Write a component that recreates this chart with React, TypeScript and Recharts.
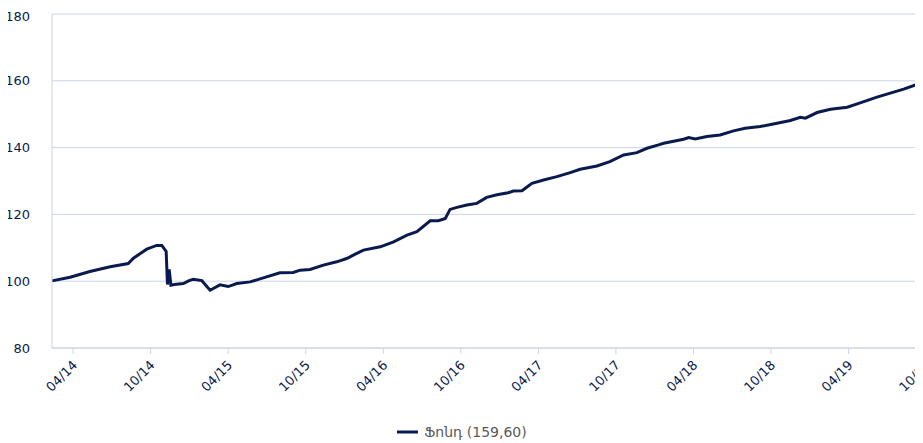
import React from 'react';
import { LineChart, Line, XAxis, YAxis, CartesianGrid, Legend } from 'recharts';

// fund index (dates are approximate)
const dates = [
  '2014-02-12', '2014-03-24', '2014-05-10', '2014-06-27', '2014-08-09', '2014-08-21',
  '2014-09-22', '2014-10-15', '2014-10-27', '2014-11-07', '2014-11-10', '2014-11-14',
  '2014-11-18', '2014-11-26', '2014-12-17', '2014-12-29', '2015-01-10', '2015-01-30',
  '2015-02-03', '2015-02-15', '2015-02-19', '2015-03-12', '2015-04-01', '2015-04-21',
  '2015-05-22', '2015-06-30', '2015-08-01', '2015-09-02', '2015-09-18', '2015-10-11',
  '2015-11-12', '2015-12-13', '2016-01-06', '2016-01-26', '2016-02-15', '2016-03-24',
  '2016-04-25', '2016-05-26', '2016-06-19', '2016-07-20', '2016-08-09', '2016-08-25',
  '2016-09-06', '2016-09-22', '2016-10-15', '2016-11-08', '2016-12-01', '2016-12-25',
  '2017-01-21', '2017-02-03', '2017-02-23', '2017-03-16', '2017-04-13', '2017-05-14',
  '2017-06-15', '2017-07-08', '2017-08-17', '2017-09-17', '2017-10-19', '2017-11-20',
  '2017-12-13', '2018-01-10', '2018-01-22', '2018-03-08', '2018-03-20', '2018-04-05',
  '2018-05-02', '2018-06-03', '2018-07-04', '2018-08-01', '2018-09-06', '2018-10-15',
  '2018-11-16', '2018-12-09', '2018-12-21', '2019-01-18', '2019-02-19', '2019-03-28',
  '2019-04-28', '2019-06-07', '2019-07-08', '2019-08-09', '2019-09-24',
];

const fundValues = [
  100.1, 101.2, 102.9, 104.3, 105.3, 106.9,
  109.6, 110.7, 110.7, 108.9, 99.0, 103.5,
  98.8, 99.0, 99.3, 100.1, 100.6, 100.2,
  99.7, 97.9, 97.3, 98.9, 98.4, 99.3,
  99.8, 101.3, 102.5, 102.6, 103.3, 103.5,
  104.8, 105.8, 106.8, 108.1, 109.3, 110.3,
  111.8, 113.8, 114.8, 118.1, 118.1, 118.8,
  121.5, 122.1, 122.8, 123.3, 125.1, 125.9,
  126.5, 127.0, 127.1, 129.3, 130.3, 131.3,
  132.5, 133.5, 134.5, 135.8, 137.8, 138.5,
  139.8, 140.8, 141.3, 142.5, 143.0, 142.6,
  143.3, 143.8, 145.0, 145.8, 146.3, 147.3,
  148.1, 149.1, 148.8, 150.5, 151.5, 152.1,
  153.4, 155.1, 156.3, 157.5, 159.6,
];

const tickLabels = ['04/14', '10/14', '04/15', '10/15', '04/16', '10/16', '04/17', '10/17', '04/18', '10/18', '04/19', '10/19'];
const yTicks = [80, 100, 120, 140, 160, 180];
const seriesName = 'Ֆոնդ (159,60)';

// months since Jan 2014
const toMonths = (d: string) => {
  const [y, m, day] = d.split('-').map(Number);
  return (y - 2014) * 12 + (m - 1) + (day - 1) / 30;
};

const tickMonths = tickLabels.map(l => toMonths('20' + l.slice(3) + '-' + l.slice(0, 2) + '-01'));

const data = dates.map((d, i) => ({ t: toMonths(d), v: fundValues[i] }));

const NAVY = '#0b1a4e';
const GRID = '#c8d5ea';

const XTick = (props: any) => {
  const { x, y, payload } = props;
  const i = tickMonths.indexOf(payload.value);
  return (
    <g transform={`translate(${x + 5},${y + 10})`}>
      <text x={0} y={0} transform="rotate(-45)" textAnchor="end" fill={NAVY} fontSize={13}>
        {tickLabels[i]}
      </text>
    </g>
  );
};

const renderLegend = () => (
  <div style={{ height: 22, display: 'flex', justifyContent: 'center', alignItems: 'center' }}>
    <svg width={21} height={4} style={{ marginRight: 6 }}>
      <line x1={0} y1={2} x2={21} y2={2} stroke={NAVY} strokeWidth={3} />
    </svg>
    <span style={{ color: '#595959', fontSize: 14 }}>{seriesName}</span>
  </div>
);

export default function App() {
  return (
    <div style={{ width: 915, overflow: 'hidden', fontFamily: '"DejaVu Sans", sans-serif' }}>
      <LineChart width={941} height={435} data={data} margin={{ top: 6, right: 10, left: 0, bottom: 0 }}>
        <CartesianGrid vertical={false} stroke={GRID} />
        <XAxis
          dataKey="t"
          type="number"
          domain={[data[0].t, 70]}
          ticks={tickMonths}
          interval={0}
          tick={(p: any) => <XTick {...p} />}
          tickSize={6}
          height={73}
          axisLine={{ stroke: GRID }}
          tickLine={{ stroke: GRID }}
        />
        <YAxis
          domain={[80, 180]}
          ticks={yTicks}
          width={44}
          tickLine={false}
          tickSize={0}
          tickMargin={22}
          axisLine={{ stroke: GRID }}
          tick={{ fill: NAVY, fontSize: 13 }}
        />
        <Legend
          verticalAlign="bottom"
          wrapperStyle={{ left: 0, width: 908 }}
          content={renderLegend}
        />
        <Line
          type="linear"
          dataKey="v"
          stroke={NAVY}
          strokeWidth={3}
          dot={false}
          isAnimationActive={false}
        />
      </LineChart>
    </div>
  );
}
